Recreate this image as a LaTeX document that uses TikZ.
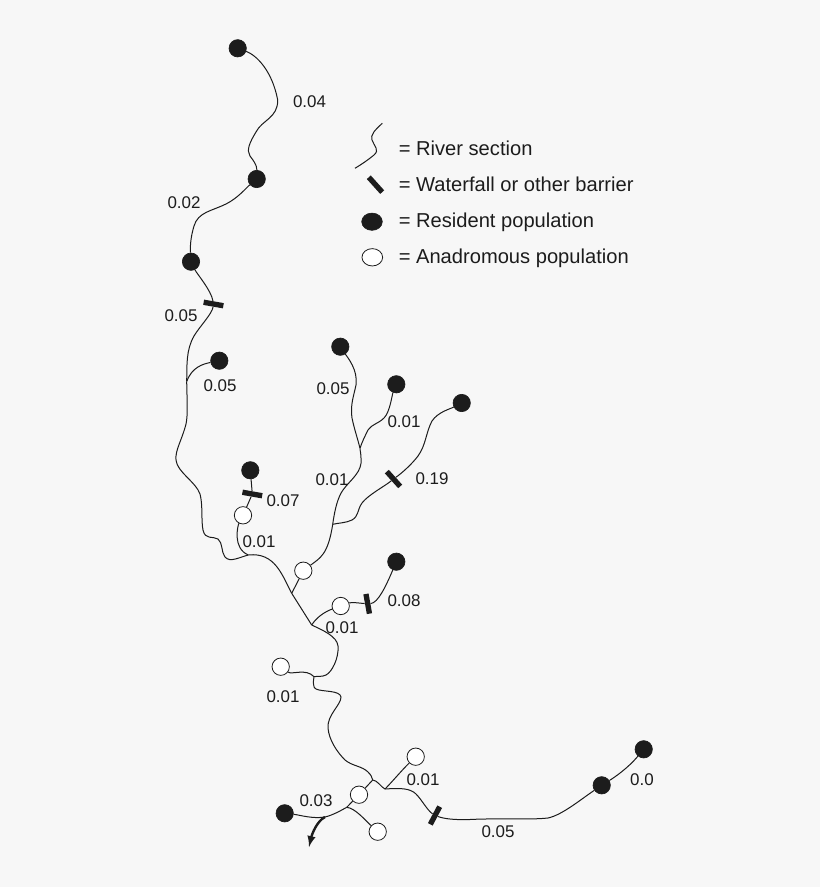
\documentclass[tikz,border=0pt]{standalone}
\usepackage{fontspec}
\setmainfont{Liberation Sans}
\usetikzlibrary{shapes.geometric}
\definecolor{paper}{RGB}{247,247,247}
\definecolor{ink}{RGB}{28,28,28}
\tikzset{
    river/.style={draw=ink,line width=0.75pt},
    popres/.style={circle,fill=ink,draw=ink,line width=0.5pt,minimum size=13pt,inner sep=0pt},
    popana/.style={circle,fill=white,draw=ink,line width=0.6pt,minimum size=13pt,inner sep=0pt},
    barrier/.style={rectangle,fill=ink,minimum width=15pt,minimum height=4pt,inner sep=0pt},
    dist/.style={text=ink,font=\fontsize{12.7}{14}\selectfont,inner sep=0.75pt},
    legtext/.style={text=ink,font=\fontsize{15.1}{17}\selectfont,inner sep=0.75pt,anchor=base west},
}
\begin{document}
\begin{tikzpicture}[x=0.75pt,y=0.75pt,yscale=-1,xscale=1]
    \useasboundingbox [fill=paper] (0,0) rectangle (820,887);

% Populations
    \node (res1) at (237.7,48.3) [popres] {};
    \node (res2) at (256.7,179) [popres] {};
    \node (res3) at (191,261.7) [popres] {};
    \node (res4) at (219.3,360.7) [popres] {};
    \node (res5) at (250.3,470.3) [popres] {};
    \node (res6) at (340.3,346.7) [popres] {};
    \node (res7) at (396.3,384.3) [popres] {};
    \node (res8) at (461.7,403) [popres] {};
    \node (res9) at (396.3,561.7) [popres] {};
    \node (res10) at (284.7,813.3) [popres] {};
    \node (res11) at (601.7,785.3) [popres] {};
    \node (res12) at (643.7,749.3) [popres] {};
    \node (ana1) at (243,515.3) [popana] {};
    \node (ana2) at (303.3,570.7) [popana] {};
    \node (ana3) at (340.7,606) [popana] {};
    \node (ana4) at (280.7,666.7) [popana] {};
    \node (ana5) at (415.7,756.7) [popana] {};
    \node (ana6) at (359,794.7) [popana] {};
    \node (ana7) at (377.7,831.7) [popana] {};

% Barriers
    \node (bar1) at (213.5,304) [barrier,rotate=-10] {};
    \node (bar2) at (393.5,479) [barrier,rotate=-48] {};
    \node (bar3) at (252.3,494) [barrier,rotate=-10] {};
    \node (bar4) at (367.7,603.8) [barrier,rotate=-80] {};
    \node (bar5) at (435,815.5) [barrier,rotate=62] {};

% Junctions
    \coordinate (jres4) at (186.7,381.5);
    \coordinate (jmain) at (248.3,555);
    \coordinate (jana) at (291.7,593.3);
    \coordinate (jfork1) at (360,448.3);
    \coordinate (jfork2) at (332.7,524.3);
    \coordinate (jlow) at (311.7,625);
    \coordinate (jm) at (314,676.7);
    \coordinate (jdelta) at (372.7,780);
    \coordinate (jsea) at (385,789);
    \coordinate (jout) at (346.7,807.3);
    \coordinate (jmouth) at (325,817);
    \coordinate (outflow) at (309,847);

%Curve Lines
    \draw [river] (res1) .. controls (256,55) and (272,70) .. (277.7,100) .. controls (278,118) and (262,120) .. (256,132) .. controls (250,142) and (246,150) .. (250,156) .. controls (253,160) and (257,165) .. (res2);
    \draw [river] (res2) .. controls (246,188) and (238,198) .. (226,204) .. controls (212,211) and (198,212) .. (194,226) .. controls (191,236) and (190,245) .. (res3);
    \draw [river] (res3) .. controls (197,274) and (211,290) .. (bar1);
    \draw [river] (bar1) .. controls (212,314) and (200,326) .. (194,336) .. controls (186,350) and (187,365) .. (jres4);
    \draw [river] (res4) .. controls (203,364) and (192,367) .. (jres4);
    \draw [river] (jres4) .. controls (187,400) and (188,415) .. (186,424) .. controls (182,440) and (175,450) .. (176,460) .. controls (177,472) and (196,482) .. (200,494) .. controls (203,505) and (201,520) .. (203,530) .. controls (205,540) and (213,536) .. (218,539) .. controls (223,543) and (221,552) .. (225,557) .. controls (230,563) and (240,557) .. (jmain);
    \draw [river] (jmain) .. controls (275,552) and (282,575) .. (jana);
    \draw [river] (ana1) .. controls (238,525) and (232,548) .. (jmain);
    \draw [river] (ana2) .. controls (320,558) and (328,555) .. (jfork2);
    \draw [river] (jfork2) .. controls (335,508) and (338,497) .. (343,490) .. controls (350,480) and (363,472) .. (361,458) .. controls (361,454) and (360,450) .. (jfork1);
    \draw [river] (res6) .. controls (348,358) and (358,370) .. (356,385) .. controls (354,395) and (350,405) .. (352,418) .. controls (354,428) and (358,440) .. (jfork1);
    \draw [river] (res7) .. controls (392,395) and (390,412) .. (384,418) .. controls (378,424) and (372,424) .. (368,430) .. controls (365,436) and (362,442) .. (jfork1);
    \draw [river] (res8) .. controls (450,409) and (438,412) .. (432,421) .. controls (426,432) and (426,445) .. (418,456) .. controls (412,464) and (402,473) .. (bar2);
    \draw [river] (bar2) .. controls (385,486) and (368,495) .. (362,503) .. controls (357,510) and (359,516) .. (352,520) .. controls (346,523) and (338,523) .. (jfork2);
    \draw [river] (jlow) .. controls (316,618) and (324,612) .. (ana3);
    \draw [river] (ana3) .. controls (352,602) and (358,603) .. (bar4);
    \draw [river] (bar4) .. controls (378,603) and (386,586) .. (res9);
    \draw [river] (jlow) .. controls (322,630) and (337,636) .. (338,646) .. controls (339,658) and (332,672) .. (326,675) .. controls (322,677) and (318,676) .. (jm);
    \draw [river] (ana4) .. controls (292,675) and (306,668) .. (jm);
    \draw [river] (jm) .. controls (313,682) and (313,688) .. (316,689) .. controls (322,692) and (340,690) .. (341,697) .. controls (341,705) and (327,715) .. (328,728) .. controls (329,740) and (337,752) .. (345,760) .. controls (352,766) and (362,766) .. (368,772) .. controls (371,775) and (372,777) .. (jdelta);
    \draw [river] (jdelta) .. controls (377,780) and (381,787) .. (jsea);
    \draw [river] (jsea) .. controls (392,782) and (402,770) .. (ana5);
    \draw [river] (jsea) .. controls (400,788) and (410,788) .. (416,794) .. controls (422,800) and (427,810) .. (bar5);
    \draw [river] (bar5) .. controls (445,819) and (455,820) .. (470,819.5) .. controls (500,818) and (530,820) .. (548,818) .. controls (562,815) and (580,800) .. (res11);
    \draw [river] (res11) .. controls (615,777) and (628,768) .. (res12);
    \draw [river] (jout) .. controls (355,808) and (365,820) .. (ana7);
    \draw [river] (res10) .. controls (300,815) and (312,819) .. (jmouth) .. controls (333,815) and (340,811) .. (jout);
    \draw [draw=ink,line width=1.8pt,-latex] (jmouth) .. controls (317,821) and (312,834) .. (outflow);

%Straight Lines
    \draw [river] (res5) -- (bar3);
    \draw [river] (bar3) -- (ana1);
    \draw [river] (jana) -- (ana2);
    \draw [river] (jana) -- (jlow);
    \draw [river] (jdelta) -- (ana6);
    \draw [river] (ana6) -- (jout);

% Text Node
    \node (d1) at (309.5,101.7) [dist] {0.04};
    \node (d2) at (184,202.7) [dist] {0.02};
    \node (d3) at (181,315.7) [dist] {0.05};
    \node (d4) at (220,385.7) [dist] {0.05};
    \node (d5) at (333,388.7) [dist] {0.05};
    \node (d6) at (404,421.7) [dist] {0.01};
    \node (d7) at (432,478.7) [dist] {0.19};
    \node (d8) at (332,479.7) [dist] {0.01};
    \node (d9) at (283,500.7) [dist] {0.07};
    \node (d10) at (259,541.7) [dist] {0.01};
    \node (d11) at (404,600.7) [dist] {0.08};
    \node (d12) at (342,627.7) [dist] {0.01};
    \node (d13) at (283,696.7) [dist] {0.01};
    \node (d14) at (423,779.7) [dist] {0.01};
    \node (d15) at (316,800.7) [dist] {0.03};
    \node (d16) at (498,831.7) [dist] {0.05};
    \node (d17) at (642,779.7) [dist] {0.0};

% Legend
    \coordinate (legrivera) at (382.3,123.3);
    \coordinate (legriverb) at (355,168.3);
    \draw [river] (legrivera) .. controls (375,130) and (370,135) .. (372,140) .. controls (374,146) and (380,150) .. (374,155) .. controls (368,160) and (362,164) .. (legriverb);
    \node (legbar) at (375.5,184.7) [barrier,rotate=-48] {};
    \node (legres) at (372,221.7) [ellipse,fill=ink,draw=ink,minimum width=15.5pt,minimum height=13pt,inner sep=0pt] {};
    \node (legana) at (372.3,257.3) [ellipse,fill=white,draw=ink,line width=0.6pt,minimum width=15.5pt,minimum height=13pt,inner sep=0pt] {};
    \node (legt1) at (397.5,156) [legtext] {= River section};
    \node (legt2) at (397.5,192) [legtext] {= Waterfall or other barrier};
    \node (legt3) at (397.5,228) [legtext] {= Resident population};
    \node (legt4) at (397.5,264) [legtext] {= Anadromous population};
\end{tikzpicture}
\end{document}
